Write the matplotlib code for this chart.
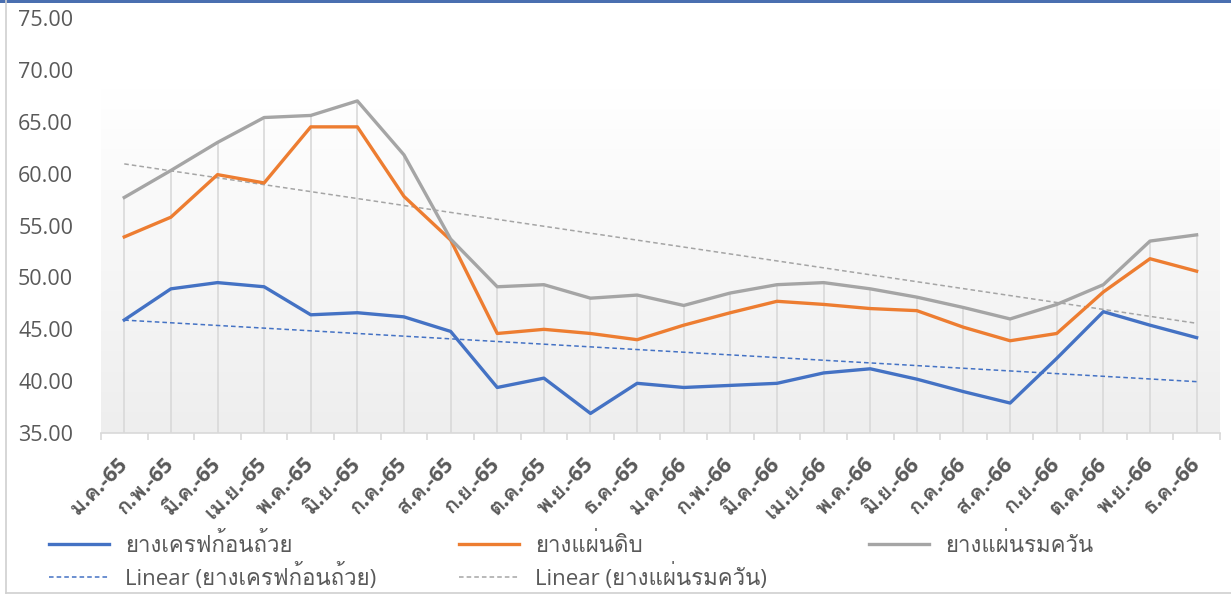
import numpy as np
import matplotlib
matplotlib.use("Agg")
import matplotlib.pyplot as plt
from matplotlib import font_manager
from matplotlib.ft2font import FT2Font
from matplotlib.colors import LinearSegmentedColormap
from matplotlib.lines import Line2D
from matplotlib.patches import Rectangle

# month labels (Thai, Buddhist year)
months = ["ม.ค.-65", "ก.พ.-65", "มี.ค.-65", "เม.ย.-65", "พ.ค.-65", "มิ.ย.-65",
          "ก.ค.-65", "ส.ค.-65", "ก.ย.-65", "ต.ค.-65", "พ.ย.-65", "ธ.ค.-65",
          "ม.ค.-66", "ก.พ.-66", "มี.ค.-66", "เม.ย.-66", "พ.ค.-66", "มิ.ย.-66",
          "ก.ค.-66", "ส.ค.-66", "ก.ย.-66", "ต.ค.-66", "พ.ย.-66", "ธ.ค.-66"]

cup_lump = [45.9, 48.9, 49.5, 49.1, 46.4, 46.6, 46.2, 44.8, 39.4, 40.3, 36.9, 39.8,
            39.4, 39.6, 39.8, 40.8, 41.2, 40.2, 39.0, 37.9, 42.2, 46.7, 45.4, 44.2]
raw_sheet = [53.9, 55.8, 59.9, 59.1, 64.5, 64.5, 57.8, 53.6, 44.6, 45.0, 44.6, 44.0,
             45.4, 46.6, 47.7, 47.4, 47.0, 46.8, 45.2, 43.9, 44.6, 48.6, 51.8, 50.6]
smoked_sheet = [57.7, 60.3, 63.0, 65.4, 65.6, 67.0, 61.8, 53.7, 49.1, 49.3, 48.0, 48.3,
                47.3, 48.5, 49.3, 49.5, 48.9, 48.1, 47.1, 46.0, 47.4, 49.3, 53.5, 54.1]

names = ["ยางเครฟก้อนถ้วย", "ยางแผ่นดิบ", "ยางแผ่นรมควัน"]

# find a font that has Thai glyphs
thai_font = None
for fe in font_manager.fontManager.ttflist:
    try:
        if 0x0E22 in FT2Font(fe.fname).get_charmap():
            thai_font = fe.name
            if "Sans" in fe.name or "Loma" in fe.name or "Garuda" in fe.name:
                break
    except Exception:
        pass

fam = ["Open Sans"]
if thai_font:
    fam.append(thai_font)
fam.append("DejaVu Sans")
plt.rcParams["font.family"] = fam

blue = "#4472C4"
orange = "#ED7D31"
gray = "#A5A5A5"
txt = "#595959"

x = np.arange(len(months))

fig = plt.figure(figsize=(12.31, 5.95), dpi=100)
ax = fig.add_axes([0.082, 0.272, 0.909, 0.698])
ax.set_xlim(-0.5, len(months) - 0.5)
ax.set_ylim(35, 75)

# plot area gradient
cmap = LinearSegmentedColormap.from_list("g", ["#eeeeee", "#ffffff"])
grad = np.linspace(0, 1, 256).reshape(-1, 1)
ax.imshow(grad, cmap=cmap, origin="lower", aspect="auto",
          extent=[-0.5, len(months) - 0.5, 35, 68.2], zorder=0)

# drop lines
tops = np.max([cup_lump, raw_sheet, smoked_sheet], axis=0)
ax.vlines(x, 35, tops, color="#d9d9d9", lw=1.2, zorder=1)

l1, = ax.plot(x, cup_lump, color=blue, lw=2.4, zorder=3, solid_joinstyle="round")
l2, = ax.plot(x, raw_sheet, color=orange, lw=2.4, zorder=3, solid_joinstyle="round")
l3, = ax.plot(x, smoked_sheet, color=gray, lw=2.4, zorder=3, solid_joinstyle="round")

# linear trend lines (as Excel)
p1 = np.polyfit(x, cup_lump, 1)
p3 = np.polyfit(x, smoked_sheet, 1)
t1, = ax.plot(x, np.polyval(p1, x), color=blue, lw=1.1, ls=(0, (3, 2)), zorder=2)
t3, = ax.plot(x, np.polyval(p3, x), color=gray, lw=1.1, ls=(0, (3, 2)), zorder=2)

for s in ["top", "right", "left"]:
    ax.spines[s].set_visible(False)
ax.spines["bottom"].set_color("#d9d9d9")
ax.spines["bottom"].set_linewidth(1.2)

ax.set_yticks(np.arange(35, 76, 5))
ax.set_yticklabels(["%.2f" % v for v in np.arange(35, 76, 5)])
ax.tick_params(axis="y", length=0, labelsize=15.5, labelcolor=txt, pad=20)

ax.set_xticks(x)
ax.set_xticklabels(months, rotation=45, ha="right", va="center", rotation_mode="anchor")
ax.set_xticks(np.arange(-0.5, len(months), 1), minor=True)
ax.tick_params(axis="x", which="major", length=0, labelsize=15.5, labelcolor=txt, pad=20)
ax.tick_params(axis="x", which="minor", length=5, color="#d9d9d9", width=1.2)
for lab in ax.get_xticklabels():
    lab.set_fontweight("bold")

# legend: first two columns filled top to bottom, third column apart
leg_kw = dict(loc="upper left", frameon=False, fontsize=16, labelcolor=txt,
              handlelength=2.7, handletextpad=0.7, labelspacing=0.25,
              borderaxespad=0, borderpad=0)
fig.legend([l1, t1, l2, t3],
           [names[0], "Linear (" + names[0] + ")", names[1], "Linear (" + names[2] + ")"],
           ncol=2, columnspacing=3.75, bbox_to_anchor=(0.04, 0.104), **leg_kw)
fig.legend([l3], [names[2]], bbox_to_anchor=(0.706, 0.104), **leg_kw)

# chart border pieces
fig.add_artist(Rectangle((0, 1 - 3 / 595), 1, 3 / 595, transform=fig.transFigure,
                         color="#4a6fb0", lw=0))
fig.add_artist(Line2D([6 / 1231, 6 / 1231], [2 / 595, 1], transform=fig.transFigure,
                      color="#d0d0d0", lw=1.2))
fig.add_artist(Line2D([6 / 1231, 1], [2 / 595, 2 / 595], transform=fig.transFigure,
                      color="#d0d0d0", lw=1.2))

fig.savefig("out.png", dpi=100)
